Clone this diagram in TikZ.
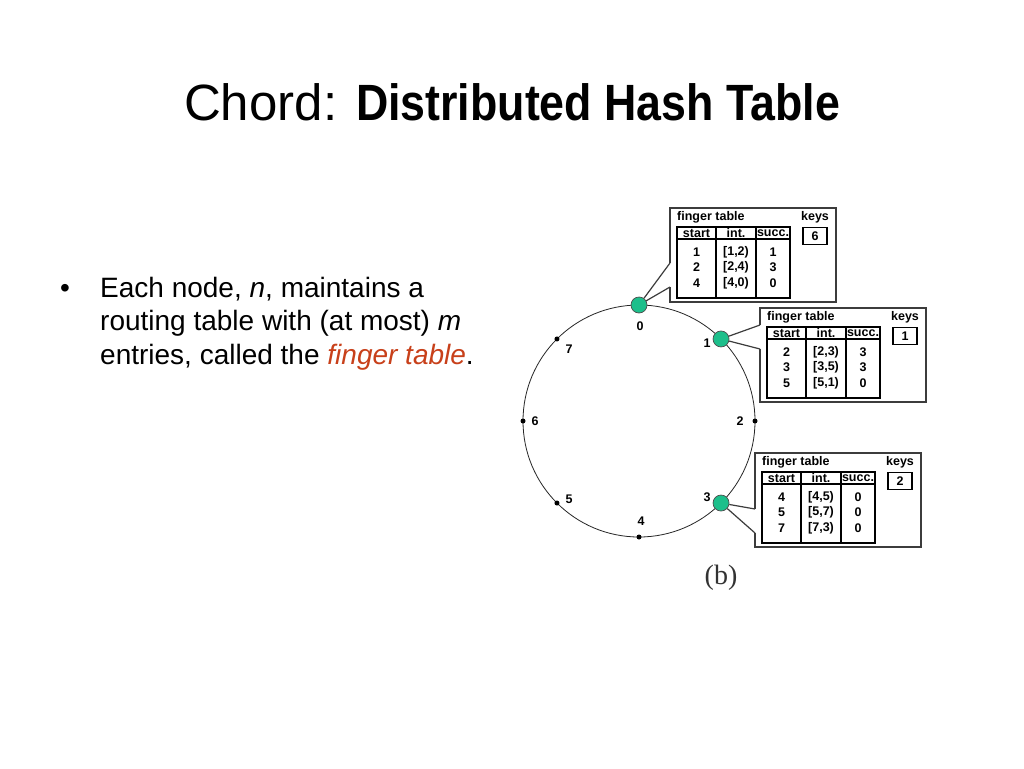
\documentclass[tikz,border=0pt]{standalone}
\usepackage{fontspec}
\setmainfont{Liberation Sans}
\newfontfamily\captionserif{Liberation Serif}
\usepackage{graphicx}
\usetikzlibrary{calc,positioning}
\definecolor{ftred}{HTML}{C8401A}
\definecolor{peergreen}{HTML}{1DBF8B}
\definecolor{calloutgray}{HTML}{3C3C3C}
\tikzset{
  ringcircle/.style={circle, draw=black!85, line width=0.8pt, minimum size=232pt, inner sep=0pt, outer sep=0pt},
  peer/.style={circle, draw=black!70, line width=0.7pt, fill=peergreen, minimum size=16pt, inner sep=0pt},
  dot/.style={circle, fill=black, minimum size=5pt, inner sep=0pt},
  boxarea/.style={rectangle, minimum width=166pt, minimum height=94pt, inner sep=0pt, outer sep=0pt},
  boxline/.style={draw=calloutgray, line width=1.2pt},
  tabbox/.style={rectangle, draw=black, line width=1.3pt, minimum width=113pt, minimum height=71pt, inner sep=0pt, outer sep=0pt},
  tabline/.style={draw=black, line width=1.3pt},
  keybox/.style={rectangle, draw=black, line width=1.3pt, minimum width=24pt, minimum height=17pt, inner sep=0pt, font=\bfseries\fontsize{12.5}{14}\selectfont},
  cell/.style={inner sep=0pt, font=\bfseries\fontsize{12.5}{14}\selectfont},
  ringlabel/.style={inner sep=0pt, font=\bfseries\fontsize{12.5}{14}\selectfont},
  title/.style={anchor=base, inner sep=0pt, font=\fontsize{51}{60}\selectfont},
  bodytext/.style={anchor=north west, align=left, inner sep=0pt, font=\fontsize{28}{33.5}\selectfont}
}
% #1 name, #2 corner, #3 peer, #4 notch, #5 rows, #6 key
\newcommand{\fingerbox}[6]{%
  \node[boxarea, anchor=north west] (#1) at (#2) {};
  \coordinate (#1a) at ($(#1.north west)+(0,#4)$);
  \coordinate (#1b) at ($(#1.north west)+(0,#4+24)$);
  \draw[boxline] (#1a) -- (#1.north west) -- (#1.north east) -- (#1.south east) -- (#1.south west) -- (#1b);
  \draw[boxline] (#1a) -- (#3);
  \draw[boxline] (#1b) -- (#3);
  \node[cell, anchor=west] (#1t) at ($(#1.north west)+(7,9)$) {finger table};
  \node[cell] (#1k) at ($(#1.north west)+(145,9)$) {keys};
  \node[keybox] (#1kv) at ($(#1.north west)+(145,28)$) {#6};
  \node[tabbox, anchor=north west] (#1tab) at ($(#1.north west)+(7,19)$) {};
  \draw[tabline] ($(#1tab.north west)+(0,12)$) -- ($(#1tab.north east)+(0,12)$);
  \draw[tabline] ($(#1tab.north west)+(39,0)$) -- ($(#1tab.south west)+(39,0)$);
  \draw[tabline] ($(#1tab.north west)+(79,0)$) -- ($(#1tab.south west)+(79,0)$);
  \node[cell] (#1h1) at ($(#1tab.north west)+(19.5,6.5)$) {start};
  \node[cell] (#1h2) at ($(#1tab.north west)+(59,6.5)$) {int.};
  \node[cell] (#1h3) at ($(#1tab.north west)+(96,6.5)$) {succ.};
  \foreach \vs/\vi/\vc [count=\r] in {#5} {
    \node[cell] (#1s\r) at ($(#1tab.north west)+(19.5,9.5+15.5*\r)$) {\vs};
    \node[cell] (#1i\r) at ($(#1tab.north west)+(59,9.5+15.5*\r)$) {\vi};
    \node[cell] (#1c\r) at ($(#1tab.north west)+(96,9.5+15.5*\r)$) {\vc};
  }
}

\begin{document}
\begin{tikzpicture}[x=1pt, y=-1pt]
  \fill[white] (0,0) rectangle (1024,768);
  \useasboundingbox (0,0) rectangle (1024,768);

  \node[title] (title) at (512,120) {Chord: \scalebox{0.877}[1]{\textbf{Distributed Hash Table}}};
  \node[anchor=base, inner sep=0pt, font=\fontsize{28}{33.5}\selectfont] (bullet) at (65,297) {\textbullet};
  \node[bodytext] (body) at (100,277) {Each node, \textit{n}, maintains a\\routing table with (at most) \textit{m}\\entries, called the \textcolor{ftred}{\textit{finger table}}.};

  % identifier ring
  \node[ringcircle] (ring) at (639,421) {};
  \foreach \k/\a/\st in {0/90/peer, 1/45/peer, 2/0/dot, 3/315/peer, 4/270/dot, 5/225/dot, 6/180/dot, 7/135/dot}
    \node[\st] (p\k) at (ring.\a) {};
  \foreach \k/\dx/\dy in {0/1/21, 1/-14/4, 2/-15/0, 3/-14/-6, 4/2/-16, 5/12/-4, 6/12/0, 7/12/10}
    \node[ringlabel] (l\k) at ($(p\k)+(\dx,\dy)$) {\k};

  % finger tables
  \fingerbox{ft0}{670,208}{p0}{55}{1/{[1,2)}/1, 2/{[2,4)}/3, 4/{[4,0)}/0}{6}
  \fingerbox{ft1}{760,308}{p1}{17}{2/{[2,3)}/3, 3/{[3,5)}/3, 5/{[5,1)}/0}{1}
  \fingerbox{ft3}{755,453}{p3}{56}{4/{[4,5)}/0, 5/{[5,7)}/0, 7/{[7,3)}/0}{2}

  \node[font=\captionserif\fontsize{28}{30}\selectfont, text=black!80, inner sep=0pt] (caption) at (721,578) {(b)};
\end{tikzpicture}
\end{document}
